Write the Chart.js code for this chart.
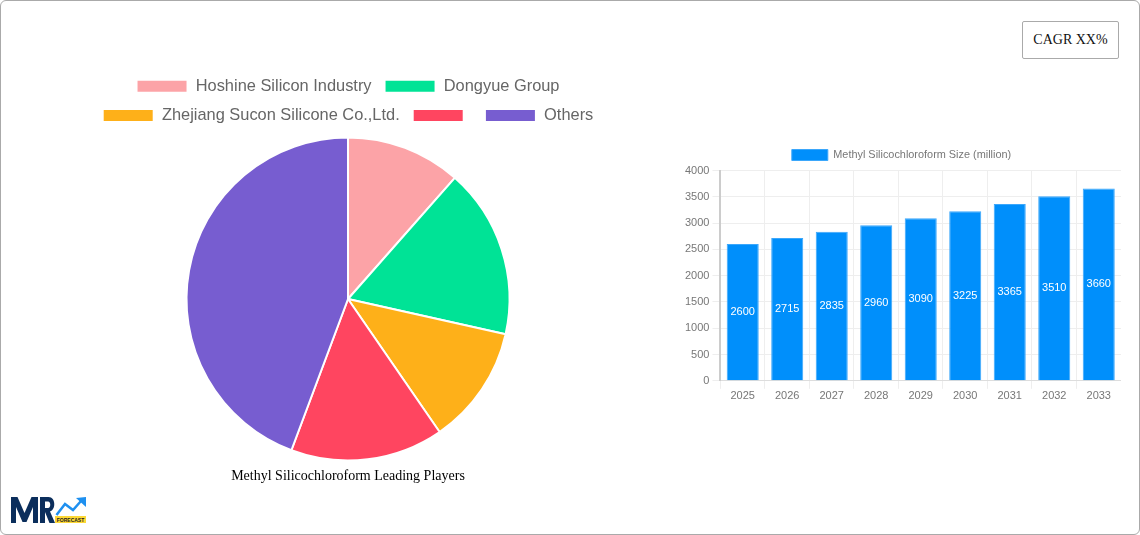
<!DOCTYPE html>
<html>
<head>
<meta charset="utf-8">
<script src="https://cdn.jsdelivr.net/npm/chart.js"></script>
<style>
html,body{margin:0;padding:0;background:#fff;}
#card{position:absolute;left:0;top:0;width:1138px;height:533px;border:1px solid #aaa;border-radius:6px;overflow:hidden;}
#cagr{position:absolute;left:1021px;top:20px;width:95px;height:36px;border:1px solid #aaa;border-radius:2px;font:14px "Liberation Serif",serif;color:#111;line-height:36px;text-align:center;}
#pieBox{position:absolute;left:-2px;top:64px;width:698px;height:430px;}
#barBox{position:absolute;left:681px;top:140px;width:439px;height:263px;}
#logo{position:absolute;left:-1px;top:489px;}
</style>
</head>
<body>
<div id="card">
  <div id="cagr">CAGR XX%</div>
  <div id="pieBox"><canvas id="pie__chart"></canvas></div>
  <div id="barBox"><canvas id="bar__chart"></canvas></div>
  <svg id="logo" width="100" height="40" viewBox="0 490 100 40">
    <polygon points="11,523 11,497 17.5,497 24.5,513 31.5,497 38,497 38,523 33,523 33,507 26.5,522 22.5,522 16,507 16,523" fill="#0b2e5c"/>
    <path d="M40 523V497H48.5C56 497 56 510 50 511.5L55 523H49.5L45 512H45V523ZM45 501.5V508H48C51 508 51 501.5 48 501.5Z" fill="#0b2e5c" fill-rule="evenodd"/>
    <polyline points="56.5,515 65,504 73,510 81,501" fill="none" stroke="#1e90f0" stroke-width="2.5"/>
    <polygon points="76,498 86,497 86,507" fill="#1e90f0"/>
    <rect x="55" y="516" width="31" height="7" fill="#fdd835"/>
    <text x="70.5" y="521.6" font-family="Liberation Sans" font-weight="bold" font-size="5" fill="#222" text-anchor="middle">FORECAST</text>
  </svg>
</div>
<script>
// leading players pie
const players = ['Hoshine Silicon Industry', 'Dongyue Group', 'Zhejiang Sucon Silicone Co.,Ltd.', '', 'Others'];
const shares = [11.5, 17, 11.9, 15.3, 44.3];
const pieColors = ['#fca3a7', '#00e396', '#feb019', '#ff4560', '#775dd0'];

// market size bars
const years = ['2025', '2026', '2027', '2028', '2029', '2030', '2031', '2032', '2033'];
const sizes = [2600, 2715, 2835, 2960, 3090, 3225, 3365, 3510, 3660];
const yTicks = [0, 500, 1000, 1500, 2000, 2500, 3000, 3500, 4000];

const barText = {
  id: 'barText',
  afterDatasetsDraw(chart) {
    const ctx = chart.ctx;
    ctx.save();
    ctx.font = '11px "Liberation Sans"';
    ctx.fillStyle = '#fff';
    ctx.textAlign = 'center';
    ctx.textBaseline = 'middle';
    chart.getDatasetMeta(0).data.forEach((bar, i) => {
      ctx.fillText(sizes[i], bar.x, (bar.y + bar.base) / 2);
    });
    ctx.restore();
  }
};

new Chart(document.getElementById('pie__chart'), {
  type: 'pie',
  data: {
    labels: players,
    datasets: [{ data: shares, backgroundColor: pieColors, radius: 161.5 }]
  },
  options: {
    responsive: true,
    maintainAspectRatio: false,
    animation: false,
    plugins: {
      legend: {
        position: 'top',
        labels: { boxWidth: 51, boxHeight: 13, padding: 13, color: '#666', font: { size: 16.4, family: 'Liberation Sans' } }
      },
      tooltip: { enabled: false },
      title: {
        display: true,
        position: 'bottom',
        text: 'Methyl Silicochloroform Leading Players',
        color: '#000',
        padding: { top: 4, bottom: 10 },
        font: { size: 14, weight: 'normal', family: 'Liberation Serif' }
      }
    }
  }
});

new Chart(document.getElementById('bar__chart'), {
  type: 'bar',
  data: {
    labels: years,
    datasets: [{
      label: 'Methyl Silicochloroform Size (million)',
      data: sizes,
      backgroundColor: '#008ffb',
      borderColor: '#3ba7fb',
      borderWidth: 1
    }]
  },
  plugins: [barText],
  options: {
    responsive: true,
    maintainAspectRatio: false,
    animation: false,
    plugins: {
      legend: {
        labels: { boxWidth: 36, boxHeight: 11, padding: 8.5, color: '#777', font: { size: 10.9, family: 'Liberation Sans' } }
      },
      tooltip: { enabled: false }
    },
    scales: {
      x: {
        grid: { color: '#eee' },
        border: { color: '#ddd' },
        ticks: { padding: 1, color: '#777', font: { size: 11, family: 'Liberation Sans' } }
      },
      y: {
        min: 0,
        max: 4000,
        afterBuildTicks(axis) { axis.ticks = yTicks.map(v => ({ value: v })); },
        grid: { color: '#eee' },
        border: { color: '#ccc', width: 2 },
        ticks: { callback: v => String(v), color: '#777', font: { size: 11, family: 'Liberation Sans' } }
      }
    }
  }
});
</script>
</body>
</html>
